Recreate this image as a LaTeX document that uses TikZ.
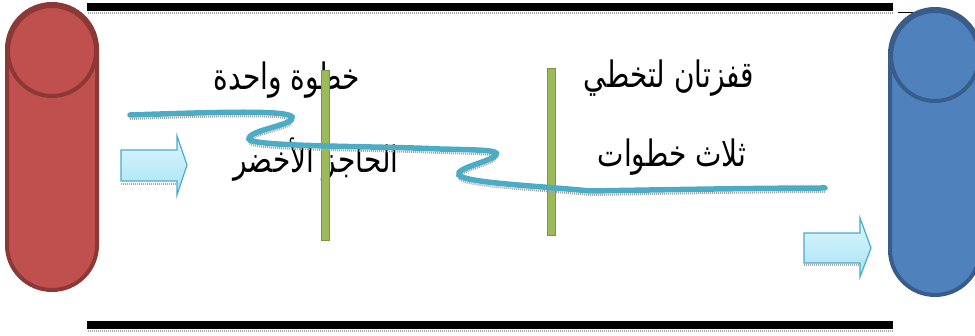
\documentclass[tikz,border=0pt]{standalone}
\usepackage{graphicx}
\usepackage{fontspec}
\newfontfamily\arabicfont[Script=Arabic]{DejaVu Sans}
\TeXXeTstate=1
\definecolor{redfill}{HTML}{C0504D}
\definecolor{redline}{HTML}{8C3836}
\definecolor{bluefill}{HTML}{4F81BD}
\definecolor{blueline}{HTML}{385D8A}
\definecolor{barGreen}{HTML}{9BBB59}
\definecolor{wave}{HTML}{4BACC6}
\definecolor{arrTop}{HTML}{DDF6FD}
\definecolor{arrBot}{HTML}{A8E3F5}
\newcommand{\artxt}[1]{\scalebox{1}[1.3]{\beginR #1\endR}}
\tikzset{
  hatch/.style={draw=gray!70, line width=2.5pt, dash pattern=on 1pt off 1pt},
  lbl/.style={font=\arabicfont\fontsize{28}{32}\selectfont, inner sep=0pt, text=black},
  greenbar/.style={fill=barGreen, draw=barGreen!80!black, line width=0.4pt},
  fatarrow/.style={top color=arrTop, bottom color=arrBot, draw=wave, line width=1.2pt, line join=miter},
}
\begin{document}
\begin{tikzpicture}[x=1pt,y=-1pt]
\clip (0,0) rectangle (975,336);
\fill[white] (0,0) rectangle (975,336);
% top and bottom bars
\draw[hatch] (88,13) -- (893,13);
\fill[black] (87,3) rectangle (893,11);
\draw[hatch] (88,331) -- (893,331);
\fill[black] (87,321) rectangle (893,329);
\draw[black, line width=0.8pt] (898,12) -- (913,12);
% red cylinder
\draw[fill=redfill, draw=redline, line width=4pt, rounded corners=45pt] (7,4) rectangle (97,290);
\draw[fill=redfill, draw=redline, line width=4pt] (52,51) ellipse [x radius=44, y radius=45];
% blue cylinder
\draw[fill=bluefill, draw=blueline, line width=4pt, rounded corners=45pt] (890,9) rectangle (980,295);
\draw[fill=bluefill, draw=blueline, line width=4pt] (935,56) ellipse [x radius=44, y radius=45];
% texts
\node[lbl] (t1) at (287,80) {\artxt{خطوة واحدة}};
\node[lbl] (t2) at (316,160) {\artxt{الحاجز الأخضر}};
\node[lbl] (t3) at (669,78) {\artxt{قفزتان لتخطي}};
\node[lbl] (t4) at (672,157) {\artxt{ثلاث خطوات}};
% green bars
\fill[greenbar] (321,70) rectangle (329,240);
\fill[greenbar] (547,68) rectangle (555,235);
% arrows
\draw[hatch, line width=2pt] (121,184) -- (177,184);
\draw[fatarrow] (121,150) -- (177,150) -- (177,136) -- (187,165) -- (177,195) -- (177,181) -- (121,181) -- cycle;
\draw[hatch, line width=2pt] (804,265) -- (860,265);
\draw[fatarrow] (804,233) -- (860,233) -- (860,218) -- (871,248) -- (860,277) -- (860,263) -- (804,263) -- cycle;
% wave line
\draw[hatch, line width=2pt, shift={(0,4)}] (130,115) .. controls (220,112) and (288,110) .. (292,117)
  .. controls (296,125) and (248,130) .. (249,139)
  .. controls (250,147) and (380,146) .. (440,149)
  .. controls (480,150) and (500,150) .. (496,155)
  .. controls (490,162) and (455,168) .. (459,175)
  .. controls (465,183) and (540,186) .. (590,191)
  .. controls (650,190) and (760,188) .. (825,188);
\draw[wave, line width=5.5pt, line cap=round] (130,115) .. controls (220,112) and (288,110) .. (292,117)
  .. controls (296,125) and (248,130) .. (249,139)
  .. controls (250,147) and (380,146) .. (440,149)
  .. controls (480,150) and (500,150) .. (496,155)
  .. controls (490,162) and (455,168) .. (459,175)
  .. controls (465,183) and (540,186) .. (590,191)
  .. controls (650,190) and (760,188) .. (825,188);
\end{tikzpicture}
\end{document}
